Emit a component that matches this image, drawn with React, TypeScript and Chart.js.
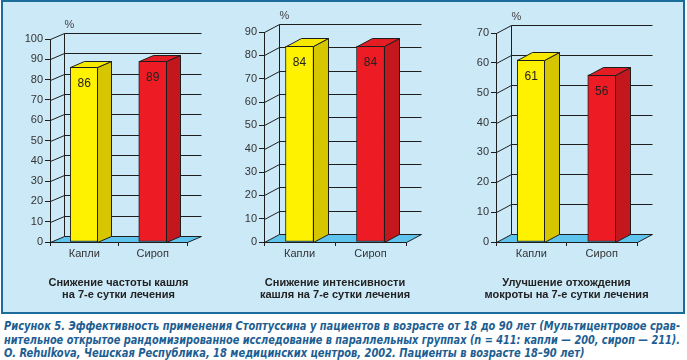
import React, { useEffect, useRef } from "react";
import { Chart, registerables } from "chart.js";

Chart.register(...registerables);

// ---------- data ----------
const categories = ["Капли", "Сироп"];
const coughFrequency = [86, 89];
const coughIntensity = [84, 84];
const sputumImprovement = [61, 56];
const yMaxima = [100, 90, 70];
const yStep = 10;
const titleFrequency = ["Снижение частоты кашля", "на 7-е сутки лечения"];
const titleIntensity = ["Снижение интенсивности", "кашля на 7-е сутки лечения"];
const titleSputum = ["Улучшение отхождения", "мокроты на 7-е сутки лечения"];
const unitLabel = "%";
const captionLines = [
  "Рисунок 5. Эффективность применения Стоптуссина у пациентов в возрасте от 18 до 90 лет (Мультицентровое срав-",
  "нительное открытое рандомизированное исследование в параллельных группах (n = 411: капли — 200, сироп — 211).",
  "O. Rehulkova, Чешская Республика, 18 медицинских центров, 2002. Пациенты в возрасте 18–90 лет)",
];

// ---------- styles ----------
const FONT = "'Liberation Sans', Arial, 'DejaVu Sans', sans-serif";
const frontColors = ["#fff200", "#ed1c24"];
const topColors = ["#f7e800", "#e41d25"];
const sideColors = ["#d6c600", "#c4161d"];
const lineColor = "#1e1e1e";
const floorColor = "#5ec4ee";
const panelBg = "#cce9f8";
const panelBorder = "#1b6c9a";
const captionColor = "#1d5e92";

const PANEL_H = 313;

type Spec = {
  values: number[];
  title: string[];
  max: number;
  left: number;
  width: number;
  axisW: number;
  padTop: number;
  padRight: number;
  dx: number;
  dy: number;
};

const specs: Spec[] = [
  { values: coughFrequency, title: titleFrequency, max: yMaxima[0], left: 0, width: 228, axisW: 50, padTop: 39, padRight: 41, dx: 14, dy: -6 },
  { values: coughIntensity, title: titleIntensity, max: yMaxima[1], left: 228, width: 225, axisW: 36, padTop: 32, padRight: 47, dx: 15, dy: -8 },
  { values: sputumImprovement, title: titleSputum, max: yMaxima[2], left: 453, width: 234, axisW: 43, padTop: 33, padRight: 50, dx: 15, dy: -8 },
];

const depthPlugin = {
  id: "depth3d",
  beforeDraw(chart: any, _args: any, opts: any) {
    const { ctx, chartArea } = chart;
    const ys = chart.scales.y;
    const dx = opts.dx;
    const dy = opts.dy;
    const L = Math.round(chartArea.left) + 0.5;
    const R = Math.round(chartArea.right) + 0.5;
    const B = Math.round(ys.getPixelForValue(0)) + 0.5;
    const T = Math.round(ys.getPixelForValue(ys.max)) + 0.5;
    ctx.save();
    // floor
    ctx.fillStyle = floorColor;
    ctx.beginPath();
    ctx.moveTo(L, B);
    ctx.lineTo(R, B);
    ctx.lineTo(R + dx, B + dy);
    ctx.lineTo(L + dx, B + dy);
    ctx.closePath();
    ctx.fill();
    ctx.strokeStyle = lineColor;
    ctx.lineWidth = 1;
    // back wall vertical
    ctx.beginPath();
    ctx.moveTo(L + dx, B + dy);
    ctx.lineTo(L + dx, T + dy);
    ctx.stroke();
    // floor right edge
    ctx.beginPath();
    ctx.moveTo(R, B);
    ctx.lineTo(R + dx, B + dy);
    ctx.stroke();
    // gridlines
    ys.ticks.forEach((t: any) => {
      const py = Math.round(ys.getPixelForValue(t.value)) + 0.5;
      ctx.beginPath();
      ctx.moveTo(L, py);
      ctx.lineTo(L + dx, py + dy);
      ctx.lineTo(R + dx, py + dy);
      ctx.stroke();
    });
    // unit label
    ctx.fillStyle = "#444";
    ctx.font = `11px ${FONT}`;
    ctx.textAlign = "center";
    ctx.textBaseline = "middle";
    ctx.fillText(unitLabel, L + dx + 5, T + dy - 9);
    ctx.restore();
  },
  afterDatasetsDraw(chart: any, _args: any, opts: any) {
    const { ctx } = chart;
    const dx = opts.dx;
    const dy = opts.dy;
    const meta = chart.getDatasetMeta(0);
    const data = chart.data.datasets[0].data;
    ctx.save();
    ctx.strokeStyle = lineColor;
    ctx.lineWidth = 1;
    meta.data.forEach((el: any, i: number) => {
      const x0 = Math.round(el.x - el.width / 2) + 0.5;
      const x1 = Math.round(el.x + el.width / 2) - 0.5;
      const y = Math.round(el.y) + 0.5;
      const b = Math.round(el.base) + 0.5;
      // side
      ctx.fillStyle = sideColors[i];
      ctx.beginPath();
      ctx.moveTo(x1, y);
      ctx.lineTo(x1 + dx, y + dy);
      ctx.lineTo(x1 + dx, b + dy);
      ctx.lineTo(x1, b);
      ctx.closePath();
      ctx.fill();
      ctx.stroke();
      // top
      ctx.fillStyle = topColors[i];
      ctx.beginPath();
      ctx.moveTo(x0, y);
      ctx.lineTo(x1, y);
      ctx.lineTo(x1 + dx, y + dy);
      ctx.lineTo(x0 + dx, y + dy);
      ctx.closePath();
      ctx.fill();
      ctx.stroke();
      // value
      ctx.fillStyle = "#222";
      ctx.font = `12px ${FONT}`;
      ctx.textAlign = "center";
      ctx.textBaseline = "middle";
      ctx.fillText(String(data[i]), el.x, y + 16);
    });
    ctx.restore();
  },
  afterDraw(chart: any, _args: any, opts: any) {
    const { ctx, chartArea } = chart;
    const cx = (chartArea.left + chartArea.right) / 2;
    ctx.save();
    ctx.fillStyle = "#222";
    ctx.font = `bold 11px ${FONT}`;
    ctx.textAlign = "center";
    ctx.textBaseline = "middle";
    (opts.title as string[]).forEach((line, i) => {
      ctx.fillText(line, cx, chartArea.bottom + 41 + i * 12);
    });
    ctx.restore();
  },
};

function BarPanel({ spec }: { spec: Spec }) {
  const ref = useRef<HTMLCanvasElement>(null);
  useEffect(() => {
    if (!ref.current) return;
    const chart = new Chart(ref.current, {
      type: "bar",
      data: {
        labels: categories,
        datasets: [
          {
            data: spec.values,
            backgroundColor: frontColors,
            borderColor: lineColor,
            borderWidth: 1,
            borderSkipped: false,
            barThickness: 28,
          },
        ],
      },
      options: {
        responsive: false,
        animation: false,
        devicePixelRatio: 1,
        layout: { padding: { top: spec.padTop, right: spec.padRight, bottom: 41, left: 0 }, autoPadding: false },
        scales: {
          x: {
            grid: { display: true, drawOnChartArea: false, drawTicks: true, tickLength: 4, color: lineColor, offset: true },
            border: { display: true, color: lineColor, width: 1 },
            ticks: { color: "#333", font: { family: FONT, size: 11 }, padding: 1 },
            afterFit: (s: any) => {
              s.height = 30;
            },
          },
          y: {
            min: 0,
            max: spec.max,
            grid: { display: true, drawOnChartArea: false, drawTicks: true, tickLength: 5, color: lineColor },
            border: { display: true, color: lineColor, width: 1 },
            ticks: { stepSize: yStep, color: "#333", font: { family: FONT, size: 11 }, padding: 2 },
            afterFit: (s: any) => {
              s.width = spec.axisW;
            },
          },
        },
        plugins: {
          legend: { display: false },
          tooltip: { enabled: false },
          title: { display: false },
          depth3d: { dx: spec.dx, dy: spec.dy, title: spec.title },
        } as any,
      },
      plugins: [depthPlugin as any],
    });
    return () => chart.destroy();
  }, [spec]);
  return (
    <canvas
      ref={ref}
      width={spec.width}
      height={PANEL_H}
      style={{ position: "absolute", left: spec.left, top: 0, width: spec.width, height: PANEL_H }}
    />
  );
}

const captionFullWidth = 676;

export default function App() {
  const capRefs = useRef<(HTMLSpanElement | null)[]>([]);
  useEffect(() => {
    const els = capRefs.current;
    els.forEach((el) => {
      if (el) el.style.transform = "none";
    });
    const widths = els.map((el) => (el ? el.getBoundingClientRect().width : 0));
    const s0 = widths[0] > 0 ? captionFullWidth / widths[0] : 1;
    els.forEach((el, i) => {
      if (!el || widths[i] <= 0) return;
      const s = i < 2 ? captionFullWidth / widths[i] : s0;
      el.style.transform = `scaleX(${s})`;
    });
  }, []);
  return (
    <div style={{ position: "absolute", left: 0, top: 0, width: 687, height: 360, background: "#fff", overflow: "hidden" }}>
      <div
        style={{
          position: "absolute",
          left: 1,
          top: 0,
          width: 684,
          height: 314,
          boxSizing: "border-box",
          background: panelBg,
          border: `2px solid ${panelBorder}`,
        }}
      />
      {specs.map((s, i) => (
        <BarPanel key={i} spec={s} />
      ))}
      {captionLines.map((line, i) => (
        <span
          key={i}
          ref={(el) => {
            capRefs.current[i] = el;
          }}
          style={{
            position: "absolute",
            left: 4,
            top: 319 + i * 13.5,
            whiteSpace: "nowrap",
            transformOrigin: "0 0",
            fontFamily: "'Liberation Sans Narrow', 'DejaVu Sans Condensed', 'Liberation Sans', sans-serif",
            fontStretch: "condensed",
            fontStyle: "italic",
            fontWeight: "bold",
            fontSize: 12,
            lineHeight: "14px",
            color: captionColor,
          }}
        >
          {line}
        </span>
      ))}
    </div>
  );
}
